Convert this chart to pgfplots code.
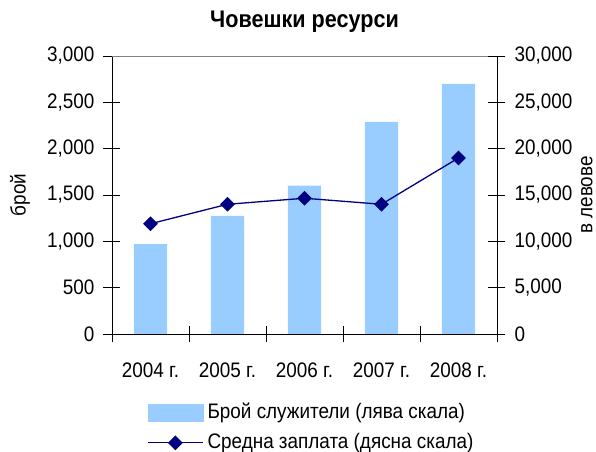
\documentclass[border=0pt]{standalone}
\usepackage{fontspec}
\setmainfont{Liberation Sans}[FakeStretch=0.9]
\usepackage{pgfplots}
\pgfplotsset{compat=1.18}
\definecolor{barblue}{HTML}{99CCFF}
\definecolor{navyline}{HTML}{000080}
\pgfplotsset{
  mylineleg/.style={legend image code/.code={\draw[mark repeat=2,mark phase=2,##1] plot coordinates {(0bp,0bp) (27.5bp,0bp) (55bp,0bp)};}},
  mybarleg/.style={legend image code/.code={\fill[barblue] (0bp,-8.5bp) rectangle (55bp,8.5bp);}},
}
\begin{document}
\fontsize{21bp}{25bp}\selectfont
\begin{tikzpicture}
\path[use as bounding box] (-112bp,-118bp) rectangle (484bp,334bp);
\pgfplotsset{
  common/.style={
    at={(0,0)}, anchor=south west,
    scale only axis, width=385bp, height=278bp,
    xmin=-0.5, xmax=4.5,
    tick align=center,
    major tick length=17bp, minor tick length=17bp,
    every tick/.style={black, line width=0.9bp},
    axis line style={black, line width=0.9bp},
    scaled y ticks=false,
    /pgf/number format/.cd, 1000 sep={,}, assume math mode=true,
  }
}
\begin{axis}[common,
  axis x line*=bottom, axis y line*=left,
  ymin=0, ymax=3000,
  ytick={0,500,...,3000},
  xtick={0,1,2,3,4},
  xticklabels={2004 г.,2005 г.,2006 г.,2007 г.,2008 г.},
  major x tick style={draw=none},
  minor xtick={-0.5,0.5,1.5,2.5,3.5,4.5},
  xticklabel style={yshift=-13bp},
  yticklabel style={xshift=-2bp},
  ylabel={брой},
  ylabel style={at={(axis description cs:-0.239,0.5)}, anchor=center},
  title={Човешки ресурси},
  title style={at={(axis description cs:0.5,1.1)}, anchor=center, font=\fontsize{24bp}{28bp}\selectfont\bfseries},
]
\addplot[ybar, bar width=0.43, fill=barblue, draw=none] coordinates {
  (0,970) (1,1275) (2,1600) (3,2290) (4,2700)
};
\draw[gray, line width=0.9bp] (rel axis cs:0,1) -- (rel axis cs:1,1);
\end{axis}
\begin{axis}[common,
  axis x line=none, axis y line*=right,
  ymin=0, ymax=30000,
  ytick={0,5000,...,30000},
  yticklabel style={xshift=2bp},
  ylabel={в левове},
  ylabel style={at={(axis description cs:1.233,0.5)}, anchor=center},
  legend style={at={(axis description cs:0.091,-0.24)}, anchor=north west,
    draw=none, fill=none, row sep=8bp, inner sep=0pt,
    nodes={inner xsep=4bp, inner ysep=2bp}},
  legend cell align=left,
]
\addlegendimage{mybarleg}
\addlegendentry{Брой служители (лява скала)}
\addplot[navyline, line width=1.3bp, mark=square*, mark size=4.6bp,
  mark options={rotate=45, fill=navyline}, mylineleg] coordinates {
  (0,11900) (1,14000) (2,14650) (3,14000) (4,19000)
};
\addlegendentry{Средна заплата (дясна скала)}
\end{axis}
\end{tikzpicture}
\end{document}
